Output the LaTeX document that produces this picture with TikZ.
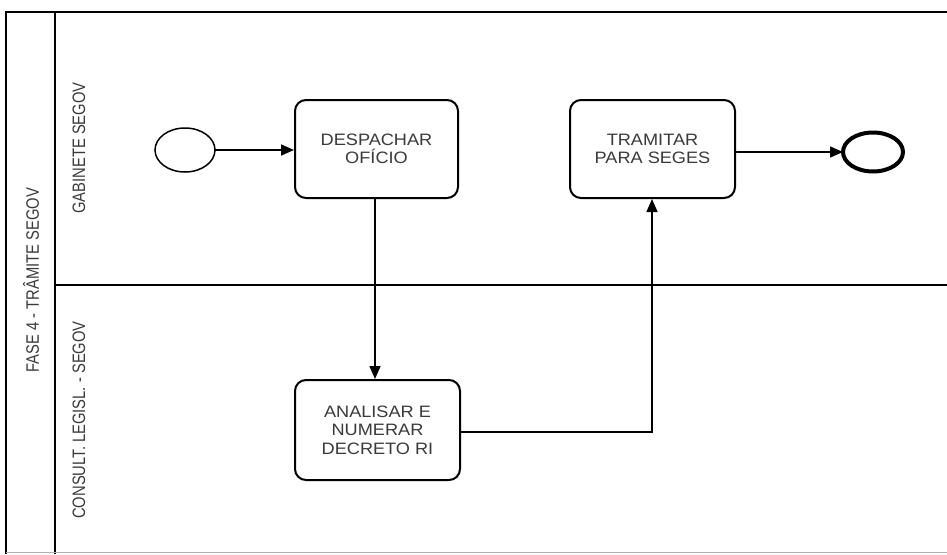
\documentclass[tikz,border=0pt]{standalone}
\usepackage{fontspec}
\setmainfont{Liberation Sans}
\newfontfamily\narrowfont[FakeStretch=0.82]{Liberation Sans}
\newfontfamily\widefont[FakeStretch=1.1]{Liberation Sans}
\usetikzlibrary{arrows.meta,shapes.geometric}
\definecolor{txtgray}{HTML}{3A3A3A}
\begin{document}
\begin{tikzpicture}[x=1pt,y=-1pt,
  task/.style={draw=black,line width=2pt,rounded corners=11pt,fill=white,
    text=txtgray,align=center,font=\widefont\fontsize{16.5}{18.5}\selectfont,inner sep=0pt},
  event/.style={ellipse,draw=black,inner sep=0pt,outer sep=0pt},
  flow/.style={line width=1.6pt,-{Triangle[length=13pt,width=11pt]}},
  lanelabel/.style={rotate=90,text=txtgray,font=\narrowfont\fontsize{18}{20}\selectfont,inner sep=0pt},
  frame/.style={line width=2pt,draw=black}]
\useasboundingbox (0,0) rectangle (947,554);
% pool frame
\draw[frame] (947,12) -- (6,12) -- (6,554);
\draw[frame] (55,12) -- (55,554);
\draw[frame] (55,285) -- (947,285);
\draw[line width=1pt,draw=gray!60] (6,552.5) -- (947,552.5);
% labels
\node[lanelabel] (pool) at (31,280) {FASE 4 - TRÂMITE SEGOV};
\node[lanelabel] (lane1) at (79,148) {GABINETE SEGOV};
\node[lanelabel] (lane2) at (79,420) {CONSULT. LEGISL. - SEGOV};
% events
\node[event,line width=1.5pt,minimum width=60pt,minimum height=44pt] (start) at (185,150) {};
\node[event,line width=4pt,minimum width=60pt,minimum height=39pt] (end) at (873,152) {};
% tasks
\node[task,minimum width=163pt,minimum height=98pt] (desp) at (376.5,149) {DESPACHAR\\OFÍCIO};
\node[task,minimum width=165pt,minimum height=98pt] (tram) at (652.5,149) {TRAMITAR\\PARA SEGES};
\node[task,minimum width=165pt,minimum height=100pt] (anal) at (377.5,430) {ANALISAR E\\NUMERAR\\DECRETO RI};
% flows
\draw[flow] (start.east) -- (desp.west |- start.east);
\draw[flow] (tram.east |- end.west) -- (end.west);
\draw[flow] (desp.south -| 375,0) -- (anal.north -| 375,0);
\draw[flow] (anal.east |- 0,432) -| (tram.south -| 652,0);
\end{tikzpicture}
\end{document}
